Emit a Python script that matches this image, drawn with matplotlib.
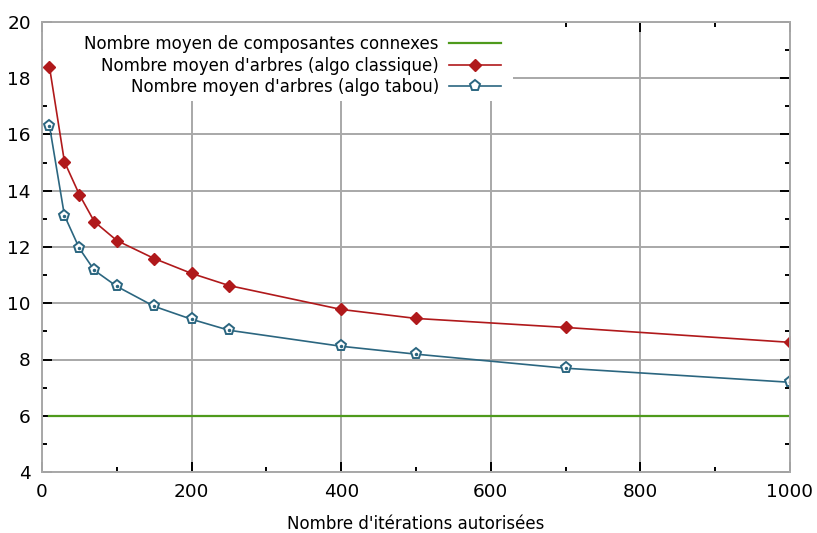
import matplotlib
matplotlib.use("Agg")
import matplotlib.pyplot as plt
from matplotlib.patches import Rectangle
from matplotlib.ticker import MultipleLocator

iterations = [10, 30, 50, 70, 100, 150, 200, 250, 400, 500, 700, 1000]
composantes = [5.98] * len(iterations)
arbres_classique = [18.4, 15.03, 13.86, 12.9, 12.23, 11.59, 11.06, 10.63, 9.78, 9.46, 9.14, 8.61]
arbres_tabou = [16.31, 13.12, 11.95, 11.17, 10.6, 9.89, 9.43, 9.04, 8.47, 8.19, 7.69, 7.19]

labels = ["Nombre moyen de composantes connexes",
          "Nombre moyen d'arbres (algo classique)",
          "Nombre moyen d'arbres (algo tabou)"]

green = "#4e9a1c"
red = "#b0191b"
blue = "#2b6680"
grid_grey = "#a8a8a8"

fig = plt.figure(figsize=(8.17, 5.33), dpi=100)
ax = fig.add_axes([42 / 817, 1 - 472 / 533, 748 / 817, 450 / 533])

ax.plot(iterations, composantes, color=green, lw=1.6, label=labels[0])
ax.plot(iterations, arbres_classique, color=red, lw=1.2, marker="D", ms=6.6,
        mfc=red, mec=red, label=labels[1])
ax.plot(iterations, arbres_tabou, color=blue, lw=1.2, marker="p", ms=8,
        mfc="white", mec=blue, mew=1.4, label=labels[2])
ax.plot(iterations, arbres_tabou, ls="none", marker="o", ms=1.5,
        mfc=blue, mec=blue)

ax.set_xlim(0, 1000)
ax.set_ylim(4, 20)
ax.xaxis.set_major_locator(MultipleLocator(200))
ax.xaxis.set_minor_locator(MultipleLocator(100))
ax.yaxis.set_major_locator(MultipleLocator(2))
ax.yaxis.set_minor_locator(MultipleLocator(1))

ax.grid(True, which="major", color=grid_grey, lw=1.4)
ax.set_axisbelow(True)
for s in ax.spines.values():
    s.set_color(grid_grey)
    s.set_linewidth(1.4)

ax.tick_params(which="both", direction="in", top=True, right=True,
               color="black", width=1.4, labelsize=13.3)
ax.tick_params(which="major", length=7, pad=8)
ax.tick_params(which="minor", length=3.5)

ax.set_xlabel("Nombre d'itérations autorisées", fontsize=12, labelpad=10)

# white area behind the key (hides the grid there, curves stay on top)
ax.add_patch(Rectangle((43 / 817, 1 - 97 / 533), (513 - 43) / 817, 74 / 533,
                       transform=fig.transFigure, facecolor="white",
                       edgecolor="none", zorder=1.5, clip_on=False))

leg = ax.legend(loc="upper right", bbox_to_anchor=(514 / 817, 1 - 22 / 533),
                bbox_transform=fig.transFigure, markerfirst=False,
                fontsize=12, handlelength=3.1, handletextpad=0.6,
                labelspacing=0.2, borderpad=0.3, frameon=True,
                fancybox=False, framealpha=1, edgecolor="none",
                facecolor="white")

fig.savefig("out.png", dpi=100)
